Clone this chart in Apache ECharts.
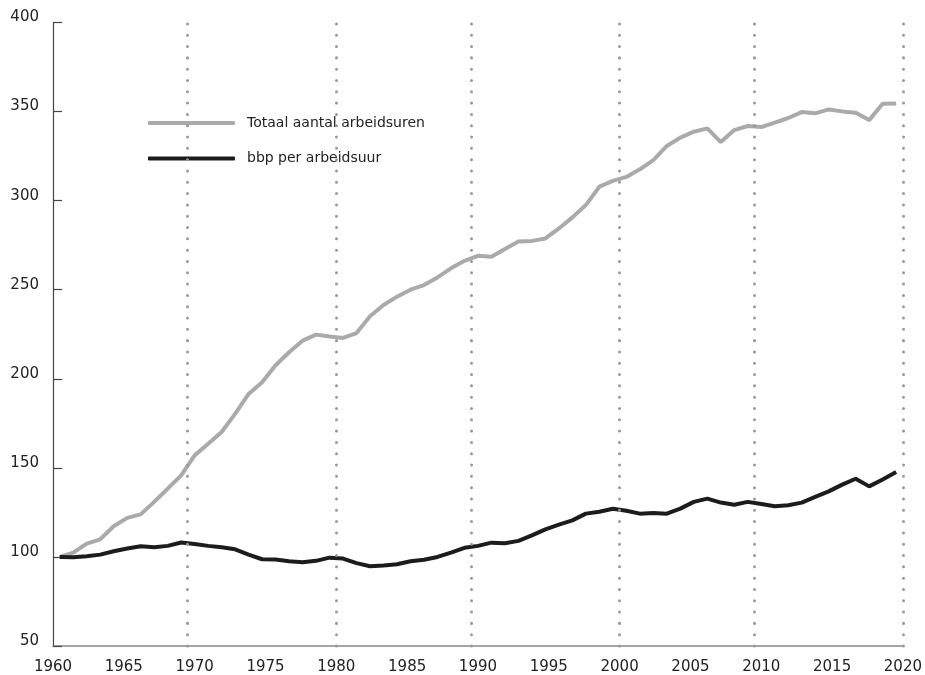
<!DOCTYPE html>
<html>
<head>
<meta charset="utf-8">
<style>
  html, body { margin: 0; padding: 0; background: #fff; }
  #chart { width: 925px; height: 675px; }
</style>
<script src="https://cdn.jsdelivr.net/npm/echarts@6/dist/echarts.min.js"></script>
</head>
<body>
<div id="chart"></div>
<script>
(() => {
  "use strict";
  // jaren met een datapunt (1960 = 100)
  const years = [];
  for (let y = 1960; y <= 2022; y++) years.push(String(y));

  const uren = [
    100.0, 102.4, 107.5, 109.9, 117.2, 121.9, 123.9, 130.9, 138.3, 145.8,
    157.0, 163.5, 170.1, 180.3, 191.5, 198.1, 207.6, 214.9, 221.4, 224.8,
    223.7, 222.9, 225.7, 235.1, 241.4, 246.1, 250.0, 252.6, 256.9, 262.0,
    266.2, 269.0, 268.5, 272.8, 277.1, 277.4, 278.8, 284.4, 290.6, 297.5,
    307.9, 311.1, 313.3, 317.6, 322.8, 330.7, 335.4, 338.7, 340.6, 332.9,
    339.6, 341.9, 341.3, 343.8, 346.4, 349.7, 349.0, 351.2, 350.1, 349.4,
    345.2, 354.4, 354.6
  ];
  const bbp = [
    100.0, 99.8, 100.4, 101.3, 103.2, 104.7, 106.0, 105.4, 106.2, 108.1,
    107.3, 106.2, 105.4, 104.3, 101.3, 98.7, 98.5, 97.6, 97.0, 97.8,
    99.6, 99.1, 96.5, 94.8, 95.2, 95.9, 97.6, 98.4, 100.0, 102.4,
    105.1, 106.2, 108.0, 107.7, 109.0, 112.1, 115.5, 118.1, 120.5, 124.3,
    125.4, 127.0, 125.9, 124.3, 124.7, 124.3, 127.1, 130.9, 132.7, 130.5,
    129.3, 130.9, 129.7, 128.4, 129.0, 130.5, 133.7, 136.8, 140.6, 143.9,
    139.6, 143.5, 147.7
  ];
  // stippellijnen (positie op de jaar-as onderaan)
  const gridYears = [1969.5, 1980, 1989.5, 2000, 2009.5, 2020];

  const FONT = "DejaVu Sans";
  const chart = echarts.init(document.getElementById("chart"), null, { renderer: "canvas" });

  chart.setOption({
    animation: false,
    backgroundColor: "#fff",
    textStyle: { fontFamily: FONT },
    grid: { left: 53, right: 20, top: 22.5, bottom: 27.4 },
    legend: {
      orient: "vertical", left: 143, top: 108, itemGap: 15.5,
      icon: "roundRect", itemWidth: 87, itemHeight: 4,
      data: ["Totaal aantal arbeidsuren", "bbp per arbeidsuur"],
      textStyle: { fontFamily: FONT, fontSize: 14, color: "#222", lineHeight: 20, padding: [0, 0, 0, 7] }
    },
    xAxis: [
      { type: "category", data: years, boundaryGap: true, show: false },
      {
        type: "value", min: 1960, max: 2020, interval: 5, position: "bottom",
        axisLine: { show: true, lineStyle: { color: "#888", width: 1.5 } },
        axisTick: { show: false }, splitLine: { show: false },
        axisLabel: {
          color: "#222", fontSize: 15, fontFamily: FONT, margin: 14,
          showMinLabel: true, showMaxLabel: true, formatter: v => String(v)
        }
      }
    ],
    yAxis: {
      type: "value", min: 50, max: 400, interval: 50,
      axisLine: { show: true, lineStyle: { color: "#444", width: 1.2 } },
      axisTick: { show: true, inside: true, length: 9, lineStyle: { color: "#444", width: 1.2 } },
      splitLine: { show: false },
      axisLabel: { color: "#222", fontSize: 15, fontFamily: FONT, margin: 14, verticalAlign: "bottom", lineHeight: 10 }
    },
    series: [
      {
        name: "stippel", type: "line", xAxisIndex: 1, data: [], silent: true,
        markLine: {
          silent: true, symbol: ["none", "none"], label: { show: false },
          lineStyle: { color: "#999", width: 3, type: [0.01, 11.3], cap: "round" },
          data: gridYears.map(v => ({ xAxis: v }))
        }
      },
      {
        name: "Totaal aantal arbeidsuren", type: "line", xAxisIndex: 0, data: uren,
        showSymbol: false, color: "#aaaaaa",
        lineStyle: { color: "#aaaaaa", width: 4 }
      },
      {
        name: "bbp per arbeidsuur", type: "line", xAxisIndex: 0, data: bbp,
        showSymbol: false, color: "#1c1c1c",
        lineStyle: { color: "#1c1c1c", width: 4 }
      }
    ]
  });
})();
</script>
</body>
</html>
